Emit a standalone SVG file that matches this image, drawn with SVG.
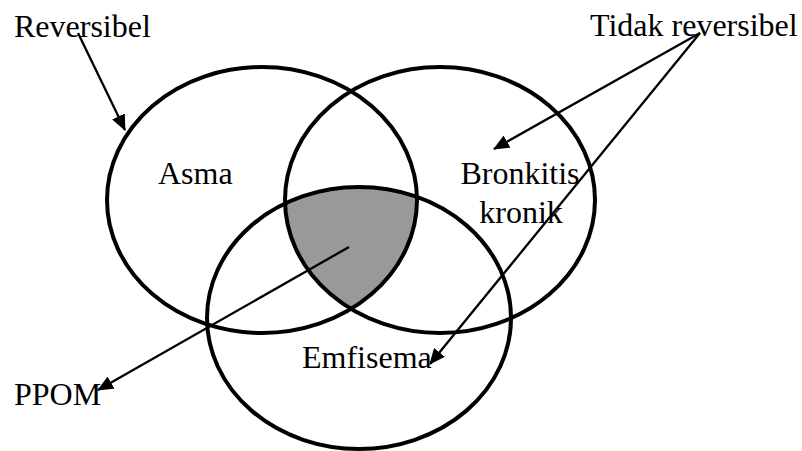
<svg xmlns="http://www.w3.org/2000/svg" width="802" height="451" viewBox="0 0 802 451">
<style>
.c{fill:none;stroke:#000;stroke-width:4}
.t{font-family:"Liberation Serif","Times New Roman",serif;font-size:32px;fill:#000}
.a{fill:none;stroke:#000;stroke-width:2.3;marker-end:url(#ah)}
</style>
<defs>
<marker id="ah" viewBox="0 0 16 14" refX="15" refY="7" markerWidth="16" markerHeight="14" markerUnits="userSpaceOnUse" orient="auto">
<path d="M0,0 L16,7 L0,14 z" fill="#000"/>
</marker>
<clipPath id="cA"><ellipse cx="262" cy="200" rx="155" ry="133"/></clipPath>
<clipPath id="cB"><ellipse cx="440" cy="200" rx="155" ry="133"/></clipPath>
</defs>
<g id="overlap" clip-path="url(#cB)">
<ellipse cx="359" cy="318" rx="152" ry="131" fill="#999999" clip-path="url(#cA)"/>
</g>
<g id="asma">
<ellipse class="c" cx="262" cy="200" rx="155" ry="133"/>
<text class="t" x="158" y="184">Asma</text>
</g>
<g id="bronkitis">
<ellipse class="c" cx="440" cy="200" rx="155" ry="133"/>
<text class="t" x="520" y="184" text-anchor="middle">Bronkitis</text>
<text class="t" x="521" y="223" text-anchor="middle">kronik</text>
</g>
<g id="emfisema">
<ellipse class="c" cx="359" cy="318" rx="152" ry="131"/>
<text class="t" x="302" y="368">Emfisema</text>
</g>
<g id="reversibel"><text class="t" x="14" y="37">Reversibel</text></g>
<g id="tidak"><text class="t" x="590" y="36">Tidak reversibel</text></g>
<g id="ppom"><text class="t" x="14" y="405">PPOM</text></g>
<g id="connectors">
<path class="a" d="M78,33 L125,130"/>
<path class="a" d="M700,33 L494,149"/>
<path class="a" d="M700,33 L430,364"/>
<path class="a" d="M349,247 L98,390"/>
</g>
</svg>
